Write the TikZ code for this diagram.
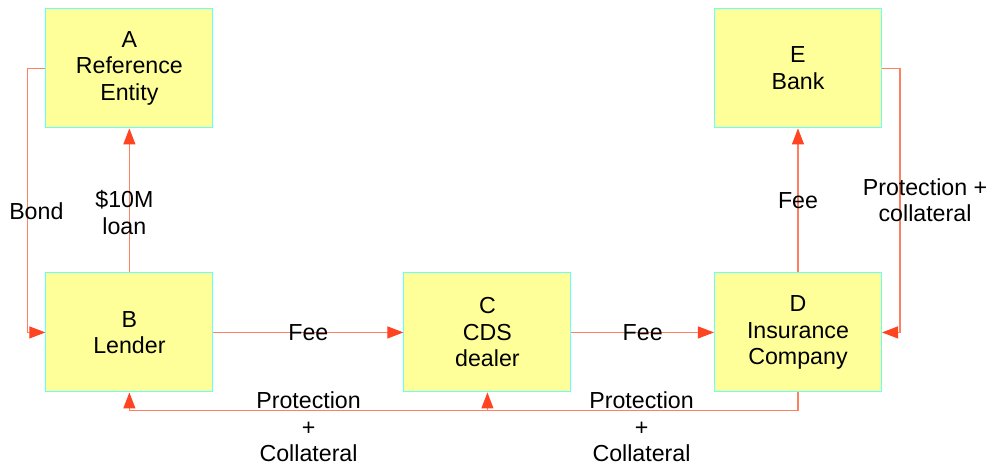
\documentclass[tikz,border=0pt]{standalone}
\usepackage{fontspec}
\setmainfont{Liberation Sans}
\usetikzlibrary{matrix,arrows.meta}
\definecolor{boxfill}{RGB}{255,255,153}
\definecolor{boxline}{RGB}{102,255,255}
\definecolor{flowline}{RGB}{255,128,96}
\definecolor{flowtip}{RGB}{255,68,34}

\begin{document}
\begin{tikzpicture}[
  party/.style={draw=boxline, fill=boxfill, line width=0.6pt, minimum width=3.34cm, minimum height=2.38cm,
    align=center, inner sep=0pt, font=\fontsize{13.2}{15.1}\selectfont},
  flow/.style={draw=flowline, line width=0.6pt, -{Triangle[color=flowtip,length=0.32cm,width=0.24cm]}},
  lbl/.style={align=center, inner sep=0pt, font=\fontsize{13.2}{15.1}\selectfont}
]
  \useasboundingbox (0,0) rectangle (19.88,-9.32);
  \matrix (m) [column sep=2.85cm, row sep=2.88cm, inner sep=0pt, anchor=north west] at (0.9,-0.16)
  {
    \node[party] (a) {A\\Reference\\Entity}; &[0.95cm] & \node[party] (e) {E\\Bank}; \\
    \node[party] (b) {B\\Lender}; &[0.95cm] \node[party] (c) {C\\CDS\\dealer}; & \node[party] (d) {D\\Insurance\\Company}; \\
  };
  \path[flow]
  (b) edge node [lbl, xshift=-0.1cm, yshift=-0.24cm] {\$10M\\loan} (a)
      edge node [lbl] {Fee} (c)
  (c) edge node [lbl] {Fee} (d)
  (d) edge node [lbl] {Fee} (e)
  ;
  \draw[flow] (a.west) -- ++(-0.36,0) |- node [lbl, pos=0.27, xshift=0.18cm] {Bond} (b.west);
  \draw[flow] (e.east) -- ++(0.36,0) |- node [lbl, pos=0.25, xshift=0.5cm] {Protection +\\collateral} (d.east);
  % protection flowing back from D
  \coordinate (bot) at ([yshift=-0.36cm]d.south);
  \draw[flow] (d.south) -- (bot) -|
    node [lbl, pos=0.117, yshift=-0.33cm] {Protection\\+\\Collateral}
    node [lbl, pos=0.366, yshift=-0.33cm] {Protection\\+\\Collateral} (b.south);
  \draw[flow] (bot -| c.south) -- (c.south);
\end{tikzpicture}
\end{document}
